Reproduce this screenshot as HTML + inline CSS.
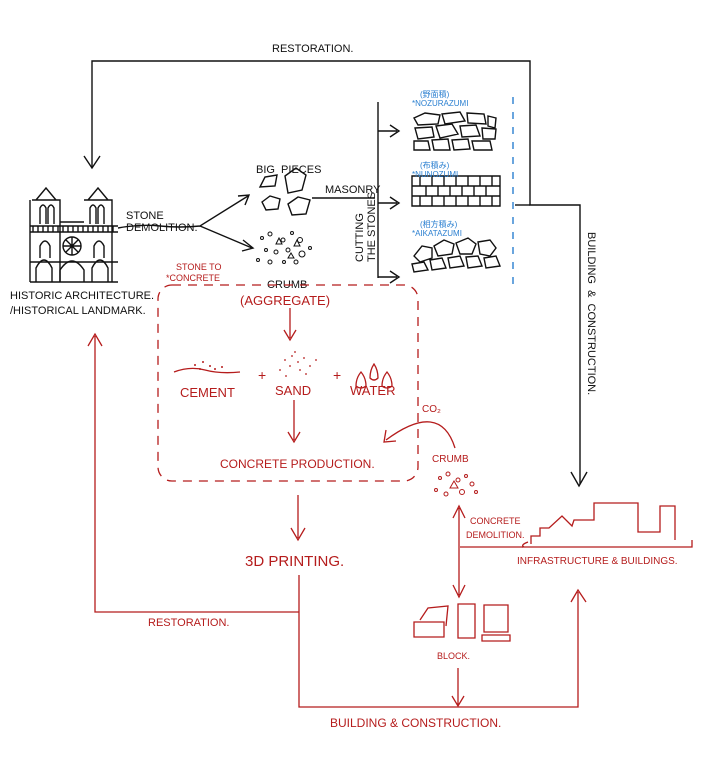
<!DOCTYPE html>
<html><head><meta charset="utf-8"><style>
html,body{margin:0;padding:0;background:#fff;}
svg{display:block;}
text{font-family:"Liberation Sans","Noto Sans CJK JP",sans-serif;}
.k{fill:#111;font-size:11px;}
.r{fill:#b51c1c;font-size:12px;}
.b{fill:#2a7fd0;font-size:8px;}
</style></head><body>
<svg width="704" height="775" viewBox="0 0 704 775" xmlns="http://www.w3.org/2000/svg">
<rect width="704" height="775" fill="#fff"/>
<g stroke="#111" stroke-width="1.4" fill="none">
<path d="M92 168 V61 H530 V205 H580 V484"/>
<path d="M84 156 L92 168 L100 156"/>
<path d="M571 472 L579 486 L587 472"/>
<path d="M30 282 H118 M32 200 H60 V282 M84 200 H112 V282 M60 222 H84 M30 232 H118 M30 262 H118 M30 200 V282 M36 200 L46 188 L56 200 M88 200 L98 188 L108 200 M40 224 V208 Q43 202 46 208 V224 M48 224 V208 Q51 202 54 208 V224 M90 224 V208 Q93 202 96 208 V224 M98 224 V208 Q101 202 104 208 V224"/>
<path d="M30 226 H118 M33 226 V232 M38 226 V232 M43 226 V232 M48 226 V232 M53 226 V232 M58 226 V232 M63 226 V232 M68 226 V232 M73 226 V232 M78 226 V232 M83 226 V232 M88 226 V232 M93 226 V232 M98 226 V232 M103 226 V232 M108 226 V232 M113 226 V232"/>
<circle cx="72" cy="246" r="9"/><path d="M63 246 H81 M72 237 V255 M66 240 L78 252 M78 240 L66 252"/>
<path d="M36 282 V268 Q44 252 52 268 V282 M60 282 V270 Q72 252 84 270 V282 M92 282 V268 Q100 252 108 268 V282 M40 258 V246 Q45 236 50 246 V258 M94 258 V246 Q99 236 104 246 V258"/>
<path d="M118 228 Q140 224 160 226 Q180 228 200 226 L248 196 M200 226 L252 248"/>
<path d="M238 196 L249 195 L245 205 M243 240 L253 248 L242 251"/>
<path d="M260 187 L265 177 L277 175 L275 186 Z M285 176 L296 168 L306 175 L302 190 L288 193 Z M262 202 L270 196 L280 199 L278 209 L266 210 Z M288 204 L298 197 L310 200 L306 214 L292 215 Z"/>
<path d="M312 198 H375 M378 102 V278 M378 131 H397 M378 203 H397 M378 277 H397 M390 125 L399 131 L390 137 M390 197 L399 203 L390 209 M390 271 L399 277 L390 283"/>
<path d="M530 205 H515"/>
<path d="M414 118 L425 113 L440 115 L438 124 L418 125 Z M442 114 L460 112 L465 121 L445 124 Z M467 113 L484 114 L486 124 L468 123 Z M488 116 L496 118 L495 128 L488 126 Z M415 128 L432 127 L434 137 L418 139 Z M436 126 L452 124 L458 134 L440 138 Z M460 126 L476 125 L480 136 L462 137 Z M482 128 L496 129 L495 139 L483 139 Z M414 141 L428 141 L430 150 L414 150 Z M432 140 L448 139 L450 150 L434 150 Z M452 140 L468 139 L470 149 L454 150 Z M472 141 L490 141 L492 150 L474 150 Z"/>
<path d="M412 176 H500 V206 H412 Z M412 186 H500 M412 196 H500 M420 176 V186 M432 176 V186 M444 176 V186 M456 176 V186 M468 176 V186 M480 176 V186 M492 176 V186 M426 186 V196 M438 186 V196 M450 186 V196 M462 186 V196 M474 186 V196 M486 186 V196 M420 196 V206 M432 196 V206 M444 196 V206 M456 196 V206 M468 196 V206 M480 196 V206 M492 196 V206"/>
<path d="M414 256 L422 246 L432 248 L432 258 L420 262 Z M434 246 L444 240 L454 244 L452 254 L438 256 Z M456 243 L468 238 L476 244 L472 254 L460 254 Z M478 242 L490 240 L496 248 L490 256 L480 254 Z M412 264 L424 262 L428 270 L414 272 Z M430 260 L442 258 L446 268 L432 270 Z M448 258 L460 256 L464 266 L450 268 Z M466 257 L478 256 L482 266 L468 268 Z M484 258 L496 256 L500 266 L486 268 Z"/>
</g>
<g fill="none" stroke="#111" stroke-width="1">
<circle cx="262" cy="238" r="1.5"/><circle cx="270" cy="234" r="2"/><circle cx="283" cy="240" r="2"/><circle cx="292" cy="233" r="1.5"/><circle cx="300" cy="240" r="2.5"/><circle cx="266" cy="250" r="1.5"/><circle cx="276" cy="252" r="2"/><circle cx="288" cy="250" r="2"/><circle cx="302" cy="254" r="3"/><circle cx="258" cy="260" r="1.5"/><circle cx="270" cy="262" r="2"/><circle cx="284" cy="262" r="1.5"/><circle cx="296" cy="262" r="2"/><circle cx="310" cy="248" r="1.5"/><path d="M276 244 L279 238 L282 244 Z M294 246 L297 240 L300 246 Z M288 258 L291 253 L294 258Z"/>
</g>
<line x1="513" y1="97" x2="513" y2="288" stroke="#2a7fd0" stroke-width="1.4" stroke-dasharray="7 8"/>
<text class="k" x="272" y="52">RESTORATION.</text>
<text class="k" x="256" y="173">BIG &#160;PIECES</text>
<text class="k" x="325" y="193" font-size="10">MASONRY</text>
<text class="k" x="126" y="219" font-size="9">STONE</text>
<text class="k" x="126" y="231" font-size="9">DEMOLITION.</text>
<text class="k" x="10" y="299" font-size="10">HISTORIC ARCHITECTURE.</text>
<text class="k" x="10" y="314" font-size="10">/HISTORICAL LANDMARK.</text>
<text class="k" x="267" y="288" font-size="10">CRUMB</text>
<text class="k" font-size="10" transform="translate(363,262) rotate(-90)">CUTTING</text>
<text class="k" font-size="10" transform="translate(375,262) rotate(-90)">THE STONES</text>
<text class="k" transform="translate(588,232) rotate(90)">BUILDING &#160;&amp; &#160;CONSTRUCTION.</text>
<text class="b" x="420" y="97">(野面積)</text><text class="b" x="412" y="106" font-size="6">*NOZURAZUMI</text>
<text class="b" x="420" y="168">(布積み)</text><text class="b" x="412" y="177" font-size="6">*NUNOZUMI</text>
<text class="b" x="420" y="227">(相方積み)</text><text class="b" x="412" y="236" font-size="6">*AIKATAZUMI</text>
<g stroke="#b51c1c" stroke-width="1.3" fill="none">
<rect x="158" y="285" width="260" height="196" rx="14" stroke-dasharray="9 7"/>
<path d="M290 308 V338 M284 330 L290 340 L296 330"/>
<path d="M294 400 V440 M288 432 L294 442 L300 432"/>
<path d="M298 495 V538 M291 528 L298 540 L305 528"/>
<path d="M299 575 V707 H578 V592 M571 602 L578 590 L586 602"/>
<path d="M299 612 H95 V336 M88 346 L95 334 L102 346"/>
<path d="M455 448 Q440 400 386 440 M386 430 L384 442 L396 441"/>
<path d="M459 508 V595 M453 518 L459 506 L465 518 M453 585 L459 597 L465 585"/>
<path d="M460 547 H523 M458 706 V668 M452 696 L458 706 L464 696"/>
<path d="M522 547 H692 V540 M531 544 V536 H540 V528 H549 L562 516 L572 526 L574 520 H594 V503 H638 V532 H660 V506 H675 V540 M524 547 Q520 545 528 542"/>
<path d="M174 372 Q190 366 205 370 Q220 374 240 372"/>
<path d="M420 620 L428 608 L448 606 L446 626 M414 622 H444 V637 H414 Z M458 604 H475 V638 H458 Z M484 605 H508 V632 H484 Z M482 635 H510 V641 H482 Z"/>
<path d="M356 386 Q356 378 361 372 Q366 378 366 386 Q361 390 356 386 Z M370 378 Q370 370 374 364 Q378 370 378 378 Q374 382 370 378 Z M382 386 Q382 378 387 372 Q392 378 392 386 Q387 390 382 386 Z"/>
</g>
<g fill="#b51c1c">
<circle cx="195" cy="365" r="1"/><circle cx="203" cy="362" r="1"/><circle cx="210" cy="366" r="1"/><circle cx="200" cy="369" r="1"/><circle cx="215" cy="369" r="1"/><circle cx="222" cy="367" r="1"/>
<circle cx="285" cy="360" r="0.9"/><circle cx="292" cy="356" r="0.9"/><circle cx="298" cy="362" r="0.9"/><circle cx="304" cy="358" r="0.9"/><circle cx="290" cy="366" r="0.9"/><circle cx="300" cy="370" r="0.9"/><circle cx="310" cy="366" r="0.9"/><circle cx="280" cy="370" r="0.9"/><circle cx="295" cy="352" r="0.9"/><circle cx="306" cy="374" r="0.9"/><circle cx="286" cy="376" r="0.9"/><circle cx="316" cy="360" r="0.9"/>
</g>
<g fill="none" stroke="#b51c1c" stroke-width="1">
<circle cx="440" cy="478" r="1.5"/><circle cx="448" cy="474" r="2"/><circle cx="458" cy="480" r="2"/><circle cx="466" cy="476" r="1.5"/><circle cx="472" cy="484" r="2"/><circle cx="436" cy="490" r="1.5"/><circle cx="446" cy="494" r="2"/><circle cx="462" cy="492" r="2.5"/><circle cx="476" cy="492" r="1.5"/><path d="M450 488 L454 481 L458 488 Z"/>
</g>
<g class="r">
<text x="176" y="270" font-size="9">STONE TO</text>
<text x="166" y="281" font-size="9">*CONCRETE</text>
<text x="240" y="305" font-size="13">(AGGREGATE)</text>
<text x="180" y="397" font-size="13">CEMENT</text>
<text x="258" y="380" font-size="14">+</text>
<text x="275" y="395" font-size="13">SAND</text>
<text x="333" y="380" font-size="14">+</text>
<text x="350" y="395" font-size="13">WATER</text>
<text x="422" y="412" font-size="10">CO₂</text>
<text x="220" y="468" font-size="12">CONCRETE PRODUCTION.</text>
<text x="432" y="462" font-size="10">CRUMB</text>
<text x="245" y="566" font-size="15">3D PRINTING.</text>
<text x="470" y="524" font-size="9">CONCRETE</text>
<text x="466" y="538" font-size="9">DEMOLITION.</text>
<text x="517" y="564" font-size="10">INFRASTRUCTURE &amp; BUILDINGS.</text>
<text x="148" y="626" font-size="11">RESTORATION.</text>
<text x="437" y="659" font-size="9">BLOCK.</text>
<text x="330" y="727" font-size="12">BUILDING &amp; CONSTRUCTION.</text>
</g>
</svg>
</body></html>
